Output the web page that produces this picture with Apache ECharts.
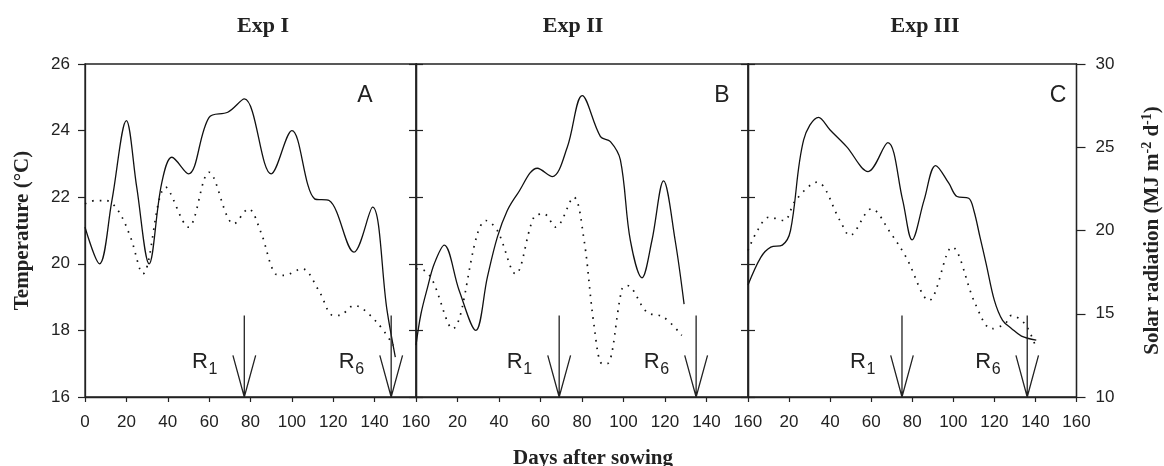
<!DOCTYPE html>
<html>
<head>
<meta charset="utf-8">
<script src="https://cdn.jsdelivr.net/npm/echarts@6/dist/echarts.min.js"></script>
<style>
  html, body { margin: 0; padding: 0; background: #fff; }
  #chart { width: 1164px; height: 466px; }
</style>
</head>
<body>
<div id="chart"></div>
<script>
// Exp I
const tempDaysA = [0, 7, 13, 20, 25, 31, 37, 42, 50, 60, 69, 77, 90, 100, 111, 118, 130, 139, 146, 150]
const tempA = [21.1, 20.0, 21.9, 24.3, 22.3, 20.0, 22.4, 23.2, 22.7, 24.4, 24.55, 24.95, 22.7, 24.0, 21.95, 21.9, 20.35, 21.7, 18.6, 17.2]
const solarDaysA = [0, 5, 10, 16, 22, 28, 39, 50, 60, 72, 79, 85, 92, 96, 105, 113, 120, 123, 130, 141, 149]
const solarA = [21.6, 21.8, 21.8, 21.2, 19.6, 17.4, 22.6, 20.2, 23.5, 20.4, 21.3, 19.9, 17.4, 17.3, 17.7, 16.4, 14.9, 14.9, 15.5, 14.5, 13.1]

// Exp II
const tempDaysB = [0, 2.4, 5.6, 8.8, 13.6, 20.8, 28.8, 34.4, 39.2, 44, 48.9, 58.5, 65.7, 72.9, 80.1, 88.9, 93.7, 98.5, 103.3, 108.9, 113.7, 119.3, 124.9, 129.2]
const tempB = [17.56, 18.5, 19.3, 20.0, 20.56, 19.2, 18.0, 19.6, 20.8, 21.6, 22.1, 22.87, 22.62, 23.5, 25.05, 23.82, 23.67, 23.12, 20.7, 19.58, 20.7, 22.49, 20.7, 18.79]
const solarDaysB = [0, 4, 8, 17.6, 29.6, 33.6, 39.2, 48, 56.8, 61.6, 67.3, 76, 80.9, 85.7, 89.7, 92.1, 99.3, 101.7, 111.3, 119.3, 128.1]
const solarB = [17.7, 17.6, 17.0, 14.1, 19.8, 20.6, 20.0, 17.4, 20.8, 21.0, 20.2, 22.0, 19.5, 14.4, 12.0, 12.0, 16.5, 16.7, 15.1, 14.8, 13.7]

// Exp III
const tempDaysC = [0, 6.3, 11.1, 16.7, 20.7, 27.1, 34.4, 40, 48, 58.5, 68.1, 75.3, 79.9, 85.8, 91.4, 97.8, 101.8, 107.5, 110, 113, 116, 120, 124, 128.3, 133.2, 140.4]
const tempC = [19.36, 20.2, 20.5, 20.56, 21.0, 23.72, 24.4, 24.02, 23.52, 22.77, 23.64, 21.92, 20.72, 21.92, 22.95, 22.42, 22.02, 21.97, 21.6, 20.8, 20.0, 18.9, 18.3, 18.06, 17.83, 17.71]
const solarDaysC = [0, 4.6, 10.3, 17.5, 23.1, 33.6, 44.8, 49.6, 60.1, 69.7, 77, 88.2, 99.4, 110.7, 118.7, 125.2, 128.3, 134.8, 139.6]
const solarC = [18.8, 20.0, 20.8, 20.6, 21.8, 22.9, 20.6, 19.7, 21.3, 19.8, 18.4, 15.8, 19.0, 15.6, 14.1, 14.4, 14.9, 14.4, 13.2]

// R1 / R6 stages (days after sowing)
const r1Days = [77, 69, 75]
const r6Days = [148, 135, 136]

const expTitles = ['Exp I', 'Exp II', 'Exp III']
const panelLetters = ['A', 'B', 'C']

const sans = 'Liberation Sans'
const serif = 'Liberation Serif'
const ink = '#222'

const grids = [
  { left: 85, top: 64, width: 331, height: 333 },
  { left: 416, top: 64, width: 332, height: 333 },
  { left: 748, top: 64, width: 331, height: 333 }
]

const tempDays = [tempDaysA, tempDaysB, tempDaysC]
const temps = [tempA, tempB, tempC]
const solarDays = [solarDaysA, solarDaysB, solarDaysC]
const solars = [solarA, solarB, solarC]

const zip = (xs, ys) => xs.map((x, i) => [x, ys[i]])

// arrow: shaft from 18.45 down to axis, with V head
function arrow (d) {
  return [[d, 18.45], [d, 16], [d - 5.5, 17.25], [d, 16], [d + 5.5, 17.25]]
}

const xAxis = grids.map((g, i) => ({
  type: 'value',
  gridIndex: i,
  min: 0,
  max: 160,
  interval: 20,
  axisLine: { lineStyle: { color: ink, width: 1.3 } },
  axisTick: { length: 5, lineStyle: { color: ink, width: 1.2 } },
  splitLine: { show: false },
  axisLabel: {
    fontFamily: sans,
    fontSize: 17,
    color: ink,
    margin: 17,
    showMinLabel: i === 0,
    showMaxLabel: true
  }
}))

function tempAxis (gridIndex, position, showLabel) {
  return {
    type: 'value',
    gridIndex,
    position,
    min: 16,
    max: 26,
    interval: 2,
    axisLine: { show: true, lineStyle: { color: ink, width: 1.3 } },
    axisTick: { show: true, length: 7, lineStyle: { color: ink, width: 1.2 } },
    splitLine: { show: false },
    axisLabel: { show: showLabel, fontFamily: sans, fontSize: 17, color: ink, margin: 15 }
  }
}

function solarAxis (gridIndex, visible) {
  return {
    type: 'value',
    gridIndex,
    position: 'right',
    min: 10,
    max: 30,
    interval: 5,
    show: visible,
    axisLine: { show: true, lineStyle: { color: ink, width: 1.3 } },
    axisTick: { show: true, length: 9, lineStyle: { color: ink, width: 1.2 } },
    splitLine: { show: false },
    axisLabel: { fontFamily: sans, fontSize: 17, color: ink, margin: 19 }
  }
}

const yAxis = [
  Object.assign(tempAxis(0, 'left', true), {
    name: 'Temperature (°C)',
    nameLocation: 'middle',
    nameRotate: 90,
    nameGap: 52,
    nameTextStyle: { fontFamily: serif, fontWeight: 'bold', fontSize: 21, color: ink }
  }),
  tempAxis(0, 'right', false),
  tempAxis(1, 'left', false),
  tempAxis(1, 'right', false),
  tempAxis(2, 'left', false),
  Object.assign(solarAxis(2, true), {
    name: 'Solar radiation (MJ m{p|-2} d{p|-1})',
    nameLocation: 'middle',
    nameRotate: 90,
    nameGap: 64,
    nameTextStyle: {
      fontFamily: serif,
      fontWeight: 'bold',
      fontSize: 21,
      color: ink,
      rich: {
        p: { fontFamily: serif, fontWeight: 'bold', fontSize: 14, color: ink, verticalAlign: 'top', padding: [0, 0, 10, 0] }
      }
    }
  }),
  solarAxis(0, false),
  solarAxis(1, false)
]

// yAxis index of the temperature (left) and solar axis for each grid
const tempAxisIdx = [0, 2, 4]
const solarAxisIdx = [6, 7, 5]

const series = []
const tempSeriesIdx = []
grids.forEach((g, i) => {
  tempSeriesIdx.push(series.length)
  series.push({
    type: 'line',
    xAxisIndex: i,
    yAxisIndex: tempAxisIdx[i],
    data: zip(tempDays[i], temps[i]),
    smooth: 0.35,
    symbol: 'none',
    lineStyle: { color: '#111', width: 1.3 }
  })
  series.push({
    type: 'line',
    xAxisIndex: i,
    yAxisIndex: solarAxisIdx[i],
    data: zip(solarDays[i], solars[i]),
    smooth: 0.35,
    symbol: 'none',
    lineStyle: { color: '#111', width: 1.7, type: [1.6, 6], cap: 'butt' }
  })
  ;[r1Days[i], r6Days[i]].forEach(d => {
    series.push({
      type: 'line',
      xAxisIndex: i,
      yAxisIndex: tempAxisIdx[i],
      data: arrow(d),
      symbol: 'none',
      lineStyle: { color: '#222', width: 1.3 }
    })
  })
})

const titles = []
expTitles.forEach((t, i) => {
  titles.push({
    text: t,
    left: [258, 568, 920][i],
    top: 10,
    textAlign: 'center',
    textStyle: { fontFamily: serif, fontWeight: 'bold', fontSize: 22, color: ink }
  })
  titles.push({
    text: panelLetters[i],
    left: [360, 717, 1053][i],
    top: 79,
    textAlign: 'center',
    textStyle: { fontFamily: sans, fontWeight: 'normal', fontSize: 23, color: ink }
  })
})
titles.push({
  text: 'Days after sowing',
  left: 588,
  top: 443,
  textAlign: 'center',
  textStyle: { fontFamily: serif, fontWeight: 'bold', fontSize: 21, color: ink }
})

const chart = echarts.init(document.getElementById('chart'), null, { renderer: 'canvas' })
chart.setOption({
  animation: false,
  backgroundColor: '#fff',
  title: titles,
  grid: grids.map(g => Object.assign({ show: true, borderColor: ink, borderWidth: 1.3, backgroundColor: 'transparent' }, g)),
  xAxis,
  yAxis,
  series
})

// R1 / R6 labels, placed 20 days left of each arrow
const stageLabels = []
grids.forEach((g, i) => {
  ;[[r1Days[i], '1'], [r6Days[i], '6']].forEach(([d, sub]) => {
    const [px, py] = chart.convertToPixel({ seriesIndex: tempSeriesIdx[i] }, [d - 20, 17.05])
    stageLabels.push({
      type: 'text',
      x: px - 11,
      y: py,
      silent: true,
      style: { text: 'R', font: '22px "Liberation Sans"', fill: ink, verticalAlign: 'middle' }
    })
    stageLabels.push({
      type: 'text',
      x: px + 5.5,
      y: py + 8,
      silent: true,
      style: { text: sub, font: '16px "Liberation Sans"', fill: ink, verticalAlign: 'middle' }
    })
  })
})
chart.setOption({ graphic: stageLabels })
</script>
</body>
</html>
